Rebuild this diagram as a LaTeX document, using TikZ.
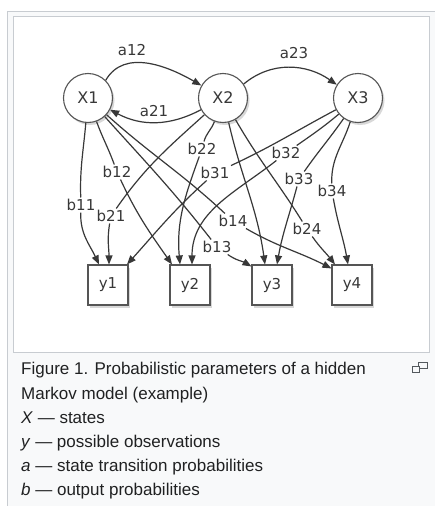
\documentclass[tikz,border=0pt]{standalone}
\usepackage{fontspec}
\setmainfont{Liberation Sans}
\newfontfamily\diagfont{DejaVu Sans}
\usetikzlibrary{arrows.meta,shadows}
\definecolor{frameclr}{HTML}{C8CCD1}
\definecolor{capbg}{HTML}{F8F9FA}
\definecolor{linec}{HTML}{383838}
\definecolor{nodeclr}{HTML}{555555}
\definecolor{txtclr}{HTML}{202122}
\definecolor{iconclr}{HTML}{54595D}
\begin{document}
\begin{tikzpicture}[x=1pt,y=1pt,
  state/.style={circle, draw=nodeclr, line width=1.1pt, fill=white, minimum size=49pt, inner sep=0pt,
    font=\diagfont\fontsize{16}{16}\selectfont, text=linec,
    drop shadow={opacity=0.3, shadow xshift=2pt, shadow yshift=-2.5pt}},
  obs/.style={rectangle, draw=nodeclr, line width=1.1pt, fill=white, minimum size=40pt, inner sep=0pt,
    font=\diagfont\fontsize{15}{15}\selectfont, text=linec,
    drop shadow={opacity=0.3, shadow xshift=2pt, shadow yshift=-2.5pt}},
  edge/.style={draw=linec, line width=1.2pt, -{Triangle[length=9pt,width=7pt]}},
  lab/.style={font=\diagfont\fontsize{15}{15}\selectfont, text=linec, inner sep=1.5pt},
  capline/.style={anchor=base west, font=\fontsize{17}{20}\selectfont, text=txtclr, inner sep=0pt}
]
\useasboundingbox (0,0) rectangle (434,-506);
% frames
\fill[white] (0,0) rectangle (434,-506);
\draw[frameclr, fill=capbg, line width=1pt] (7,-11) rectangle (440,-515);
\draw[frameclr, fill=white, line width=1pt] (13,-16) rectangle (429,-352);

% states
\node[state] (X1) at (88,-98) {X1};
\node[state] (X2) at (223,-98) {X2};
\node[state] (X3) at (358,-98) {X3};
% observations
\node[obs] (y1) at (108,-285) {y1};
\node[obs] (y2) at (190,-285) {y2};
\node[obs] (y3) at (272,-285) {y3};
\node[obs] (y4) at (352,-285) {y4};

% labels
\node[lab] (la12) at (132,-50) {a12};
\node[lab] (la23) at (294,-53) {a23};
\node[lab] (la21) at (154,-111) {a21};
\node[lab] (lb11) at (81,-205) {b11};
\node[lab] (lb12) at (117,-172) {b12};
\node[lab] (lb13) at (217,-247) {b13};
\node[lab] (lb14) at (233,-221) {b14};
\node[lab] (lb21) at (111,-216) {b21};
\node[lab] (lb22) at (202,-149) {b22};
\node[lab] (lb24) at (307,-229) {b24};
\node[lab] (lb31) at (215,-173) {b31};
\node[lab] (lb32) at (286,-153) {b32};
\node[lab] (lb33) at (299,-179) {b33};
\node[lab] (lb34) at (332,-191) {b34};

% transitions
\draw[edge] (X1.45) to[out=60,in=150] (X2.150);
\draw[edge] (X2.34) to[out=40,in=145] (X3.148);
\draw[edge] (X2) to[out=208,in=-28] (X1);

% emissions
\draw[edge] (X1) to[out=265,in=92] (lb11) to[out=268,in=115] ([xshift=-9pt]y1.north);
\draw[edge] (X1) to[out=290,in=110] (lb12) to[out=295,in=125] ([xshift=-18pt]y2.north);
\draw[edge] (X1) to[out=312,in=128] (lb13) to[out=325,in=150] ([yshift=-2pt]y3.north west);
\draw[edge] (X1) to[out=318,in=137] (lb14) to[out=330,in=153] ([yshift=-4pt]y4.north west);
\draw[edge] (X2) to[out=222,in=55] (lb21) to[out=260,in=90] ([xshift=1pt]y1.north);
\draw[edge] (X2) to[out=250,in=75] (lb22) to[out=250,in=95] ([xshift=-10pt]y2.north);
\draw[edge] (X2) to[out=283,in=98] ([xshift=-7pt]y3.north);
\draw[edge] (X2) to[out=300,in=122] (lb24) to[out=305,in=128] ([xshift=-17pt]y4.north);
\draw[edge] (X3) to[out=208,in=25] (lb31) to[out=222,in=48] ([xshift=19pt]y1.north);
\draw[edge] (X3) to[out=220,in=35] (lb32) to[out=218,in=90] ([xshift=2pt]y2.north);
\draw[edge] (X3) to[out=235,in=55] (lb33) to[out=255,in=80] ([xshift=5pt]y3.north);
\draw[edge] (X3) to[out=252,in=92] (lb34) to[out=280,in=100] ([xshift=-4pt]y4.north);

% caption
\node[capline] (c1) at (21,-374) {Figure 1. Probabilistic parameters of a hidden};
\node[capline] (c2) at (21,-399) {Markov model (example)};
\node[capline] (c3) at (21,-423) {\textit{X} — states};
\node[capline] (c4) at (21,-447) {\textit{y} — possible observations};
\node[capline] (c5) at (21,-471) {\textit{a} — state transition probabilities};
\node[capline] (c6) at (21,-495) {\textit{b} — output probabilities};
% enlarge icon
\draw[iconclr, line width=1pt] (418,-362.5) rectangle (427,-368.5);
\draw[iconclr, line width=1pt, fill=capbg] (412.5,-366) rectangle (419.5,-372);
\end{tikzpicture}
\end{document}
